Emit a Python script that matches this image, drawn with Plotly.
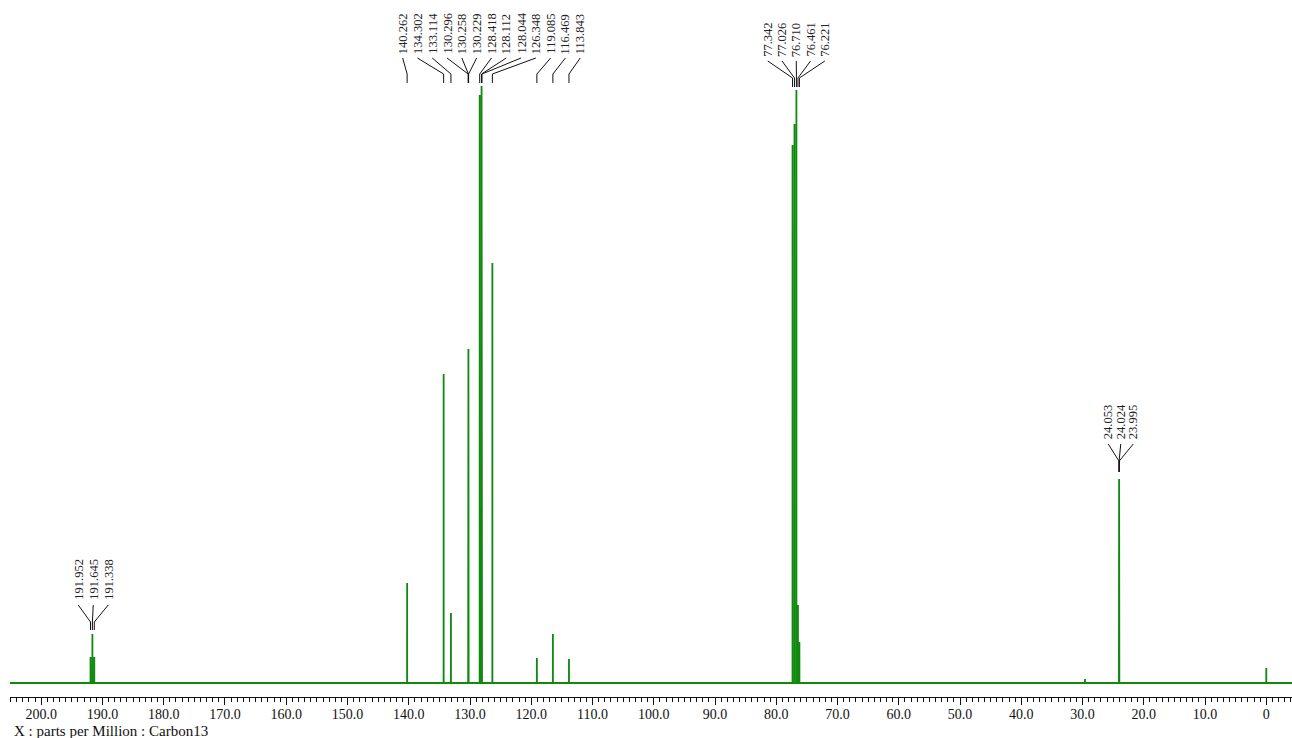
import plotly.graph_objects as go

# ---------------- data ----------------
# peak positions (ppm) and heights (arbitrary intensity units)
peak_ppm = [191.952, 191.645, 191.338,
            140.262, 134.302, 133.114, 130.296, 130.258, 130.229,
            128.418, 128.112, 128.044, 126.348, 119.085, 116.469, 113.843,
            77.342, 77.026, 76.710, 76.461, 76.221,
            29.600,
            24.053, 24.024, 23.995,
            0.000]
peak_height = [26, 49, 26,
               100, 309, 70, 201, 334, 40,
               588, 597, 358, 420, 25, 49, 24,
               538, 559, 593, 78, 41,
               4,
               118, 204, 83,
               15]

# labelled groups
group_191 = ["191.952", "191.645", "191.338"]
group_arom = ["140.262", "134.302", "133.114", "130.296", "130.258", "130.229",
              "128.418", "128.112", "128.044", "126.348", "119.085", "116.469", "113.843"]
group_77 = ["77.342", "77.026", "76.710", "76.461", "76.221"]
group_24 = ["24.053", "24.024", "23.995"]

tick_vals = [200, 190, 180, 170, 160, 150, 140, 130, 120, 110, 100, 90, 80, 70, 60, 50, 40, 30, 20, 10, 0]
tick_text = ["200.0", "190.0", "180.0", "170.0", "160.0", "150.0", "140.0", "130.0", "120.0", "110.0",
             "100.0", "90.0", "80.0", "70.0", "60.0", "50.0", "40.0", "30.0", "20.0", "10.0", "0"]

x_title = "X : parts per Million : Carbon13"

# ---------------- style ----------------
X_LEFT, X_RIGHT = 205.1, -4.2
HALF_W = 0.006
GREEN = "#0f8a0f"
SERIF = "Liberation Serif, Times New Roman, serif"

# build the spectrum polyline from the peak list
order = sorted(range(len(peak_ppm)), key=lambda i: -peak_ppm[i])
xs, ys = [X_LEFT], [0]
for i in order:
    p, h = peak_ppm[i], peak_height[i]
    xs += [p + HALF_W, p, p - HALF_W]
    ys += [0, h, 0]
xs.append(X_RIGHT)
ys.append(0)

fig = go.Figure()
fig.add_trace(go.Scatter(x=xs, y=ys, mode="lines",
                         line=dict(color=GREEN, width=1.8),
                         hoverinfo="skip", showlegend=False))

# label groups: (labels, centre ppm, spacing ppm, text bottom, diag start, diag end, vert end)
groups = [
    (group_191, 191.51, 2.45, 82, 78, 61, 53),
    (group_arom, 126.50, 2.416, 628, 625, 609, 600),
    (group_77, 76.73, 2.327, 625, 622, 605, 596),
    (group_24, 23.76, 2.04, 243, 239, 222, 211),
]
shapes = []
annotations = []
for labels, cen, sp, yt, y1, y2, y3 in groups:
    n = len(labels)
    for k, lab in enumerate(labels):
        lx = cen + (n - 1) / 2 * sp - k * sp
        px = float(lab)
        annotations.append(dict(x=lx, y=yt, xref="x", yref="y", text=lab,
                                textangle=-90, showarrow=False,
                                xanchor="center", yanchor="bottom",
                                font=dict(family=SERIF, size=12.5, color="#222222"),
                                borderpad=0))
        shapes.append(dict(type="line", xref="x", yref="y", x0=lx, y0=y1, x1=px, y1=y2,
                           line=dict(color="#111111", width=1)))
        shapes.append(dict(type="line", xref="x", yref="y", x0=px, y0=y2, x1=px, y1=y3,
                           line=dict(color="#111111", width=1)))

# axis title placed at pixel (12, 731) -> paper coords
annotations.append(dict(x=(12 - 10) / 1282, y=(697 - 731) / 697, xref="paper", yref="paper",
                        text=x_title, showarrow=False, xanchor="left", yanchor="middle",
                        font=dict(family=SERIF, size=15, color="#111111")))

fig.update_layout(
    width=1292, height=738,
    margin=dict(l=10, r=0, t=0, b=41),
    plot_bgcolor="white", paper_bgcolor="white",
    shapes=shapes, annotations=annotations,
    xaxis=dict(range=[X_LEFT, X_RIGHT], showgrid=False, zeroline=False,
               showline=True, linecolor="#111111", linewidth=1,
               ticks="outside", ticklen=7, tickwidth=1, tickcolor="#111111",
               tickmode="array", tickvals=tick_vals, ticktext=tick_text,
               ticklabelstandoff=-3,
               tickfont=dict(family=SERIF, size=14, color="#111111"),
               minor=dict(dtick=1, tick0=0, ticks="outside", ticklen=4,
                          tickwidth=1, tickcolor="#111111", showgrid=False)),
    yaxis=dict(range=[-14, 683], visible=False),
)

fig.write_html("out.html", config={"displayModeBar": False},
               post_script="document.body.style.margin='0';document.body.style.padding='0';")
